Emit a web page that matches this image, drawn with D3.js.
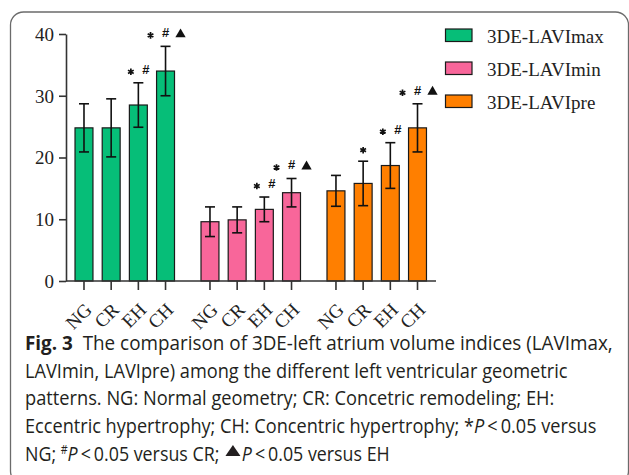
<!DOCTYPE html>
<html><head><meta charset="utf-8">
<script src="https://cdn.jsdelivr.net/npm/d3@7"></script>
<style>body{margin:0;background:#fff}svg{display:block}</style>
</head><body><svg id="c" width="629" height="475"></svg>
<script>
// ---- data ----
const categories = ["NG", "CR", "EH", "CH"];
const seriesNames = ["3DE-LAVImax", "3DE-LAVImin", "3DE-LAVIpre"];
const lavimaxMean = [24.8, 24.8, 28.5, 34.0];
const lavimaxSD   = [3.9, 4.7, 3.6, 4.0];
const laviminMean = [9.6, 9.9, 11.6, 14.3];
const laviminSD   = [2.4, 2.1, 2.0, 2.3];
const lavipreMean = [14.6, 15.8, 18.7, 24.8];
const lavipreSD   = [2.5, 3.6, 3.7, 3.9];
const lavimaxSig  = [[], [], ["*", "#"], ["*", "#", "▲"]];
const laviminSig  = [[], [], ["*", "#"], ["*", "#", "▲"]];
const lavipreSig  = [[], ["*"], ["*", "#"], ["*", "#", "▲"]];
const yTicks = [0, 10, 20, 30, 40];
const colors = ["#06BE78", "#F8669A", "#FF7F00"];

const captionLines = [
  [["Fig. 3", "b"], ["  The comparison of 3DE-left atrium volume indices (LAVImax,", ""]],
  [["LAVImin, LAVIpre) among the different left ventricular geometric", ""]],
  [["patterns. NG: Normal geometry; CR: Concetric remodeling; EH:", ""]],
  [["Eccentric hypertrophy; CH: Concentric hypertrophy; *", ""], ["P", "i"], ["\u2009<\u20090.05 versus", ""]],
  [["NG; ", ""], ["#", "sup"], ["P", "i"], ["\u2009<\u20090.05 versus CR; ", ""], ["▲", "tri"], ["P", "i"], ["\u2009<\u20090.05 versus EH", ""]]
];
const captionEnds = [613, 568, 555, 597, 390];

const series = [
  {name: seriesNames[0], mean: lavimaxMean, sd: lavimaxSD, sig: lavimaxSig},
  {name: seriesNames[1], mean: laviminMean, sd: laviminSD, sig: laviminSig},
  {name: seriesNames[2], mean: lavipreMean, sd: lavipreSD, sig: lavipreSig}
];

// ---- chart ----
const svg = d3.select("#c");
const serif = "'Liberation Serif','Times New Roman',serif";
const capFont = "'Open Sans','Noto Sans',sans-serif";
const triPath = "M-7.5,5.5L7.5,5.5L0,-5.5Z";

// frame
svg.append("rect").attr("x", 10.5).attr("y", 12).attr("width", 618).attr("height", 472)
  .attr("rx", 13).attr("fill", "none").attr("stroke", "#6b6b6b").attr("stroke-width", 1.3);

const y = d3.scaleLinear().domain([0, 40]).range([281, 34]);
const x0 = d3.scaleBand().domain(seriesNames).range([70.4, 431.1]).paddingInner(0.137).paddingOuter(0);
const x1 = d3.scaleBand().domain(categories).range([0, x0.bandwidth()]).paddingInner(0.34).paddingOuter(0.17);
const axisX = 66;

// y axis
const yAxis = svg.append("g").attr("transform", `translate(${axisX},0)`)
  .call(d3.axisLeft(y).tickValues(yTicks).tickSize(7).tickPadding(5).tickSizeOuter(0));
yAxis.select(".domain").attr("stroke", "#333").attr("stroke-width", 1.6);
yAxis.selectAll(".tick line").attr("stroke", "#333").attr("stroke-width", 1.6);
yAxis.selectAll(".tick text").attr("font-family", serif).attr("font-size", 19).attr("fill", "#222").attr("dy", "0.34em");

// bars
const groups = svg.append("g").selectAll("g").data(series).join("g")
  .attr("transform", d => `translate(${x0(d.name)},0)`);

groups.each(function(s, si) {
  const g = d3.select(this);
  const rows = categories.map((c, i) => ({c, m: s.mean[i], sd: s.sd[i], sig: s.sig[i]}));
  g.selectAll("rect.bar").data(rows).join("rect").attr("class", "bar")
    .attr("x", d => x1(d.c)).attr("width", x1.bandwidth())
    .attr("y", d => y(d.m)).attr("height", d => y(0) - y(d.m))
    .attr("fill", colors[si]).attr("stroke", "#1a1a1a").attr("stroke-width", 1.2);
  const cx = d => x1(d.c) + x1.bandwidth() / 2;
  const eb = g.selectAll("g.eb").data(rows).join("g").attr("class", "eb")
    .attr("stroke", "#111").attr("stroke-width", 1.6);
  eb.append("line").attr("x1", cx).attr("x2", cx).attr("y1", d => y(d.m - d.sd)).attr("y2", d => y(d.m + d.sd));
  eb.append("line").attr("x1", d => cx(d) - 5).attr("x2", d => cx(d) + 5).attr("y1", d => y(d.m + d.sd)).attr("y2", d => y(d.m + d.sd));
  eb.append("line").attr("x1", d => cx(d) - 5).attr("x2", d => cx(d) + 5).attr("y1", d => y(d.m - d.sd)).attr("y2", d => y(d.m - d.sd));
  // x ticks
  g.selectAll("line.xt").data(rows).join("line").attr("class", "xt")
    .attr("x1", cx).attr("x2", cx).attr("y1", y(0)).attr("y2", y(0) + 9)
    .attr("stroke", "#333").attr("stroke-width", 1.6);
  // x labels
  g.selectAll("text.xl").data(rows).join("text").attr("class", "xl")
    .attr("transform", d => `translate(${cx(d) + 9},${y(0) + 30}) rotate(-45)`)
    .attr("text-anchor", "end").attr("font-family", serif).attr("font-size", 19).attr("fill", "#222")
    .text(d => d.c);
  // significance marks
  rows.forEach(d => {
    const n = d.sig.length;
    const base = y(d.m + d.sd) - 9;
    d.sig.forEach((sym, k) => {
      const sx = cx(d) + (k - (n - 1) / 2) * 15;
      if (sym === "▲") {
        g.append("path").attr("d", d3.symbol(d3.symbolTriangle, 46)())
          .attr("transform", `translate(${sx},${base - 3})`).attr("fill", "#111");
      } else if (sym === "*") {
        g.append("path").attr("d", d3.symbol(d3.symbolAsterisk, 30)())
          .attr("transform", `translate(${sx},${base - 2})`).attr("fill", "none")
          .attr("stroke", "#111").attr("stroke-width", 1.7);
      } else {
        g.append("text").attr("x", sx).attr("y", base)
          .attr("text-anchor", "middle").attr("font-family", "'Liberation Sans',Arial,sans-serif")
          .attr("font-size", 13).attr("font-weight", "bold")
          .attr("fill", "#111").text(sym);
      }
    });
  });
});

// x axis line
svg.append("line").attr("x1", axisX).attr("x2", 436).attr("y1", y(0)).attr("y2", y(0))
  .attr("stroke", "#333").attr("stroke-width", 1.6);

// legend
const leg = svg.append("g").selectAll("g").data(seriesNames).join("g")
  .attr("transform", (d, i) => `translate(445.5,${29 + i * 33})`);
leg.append("rect").attr("width", 26.5).attr("height", 12.5)
  .attr("fill", (d, i) => colors[i]).attr("stroke", "#1a1a1a").attr("stroke-width", 1.2);
leg.append("text").attr("x", 41.5).attr("y", 14).attr("font-family", serif).attr("font-size", 19)
  .attr("fill", "#222").text(d => d);

// caption
const capBase = [350, 378, 405, 433, 461];
captionLines.forEach((segs, li) => {
  const t = svg.append("text").attr("x", 0).attr("y", 0)
    .attr("font-family", capFont).attr("font-size", 20)
    .attr("fill", "#231f20").style("white-space", "pre");
  let charCount = 0;
  const triIdx = [];
  segs.forEach(([txt, st], i) => {
    const prev = i > 0 ? segs[i - 1][1] : "";
    const shown = st === "tri" ? "\u2003" : txt;
    const ts = t.append("tspan").text(shown);
    if (st === "b") ts.attr("font-weight", "bold");
    if (st === "i") ts.attr("font-style", "italic");
    if (st === "sup") ts.attr("font-size", 12).attr("dy", -7);
    if (prev === "sup") ts.attr("dy", 7);
    if (st === "tri") triIdx.push(charCount);
    charCount += shown.length;
  });
  const node = t.node();
  const w = node.getBBox().width;
  const s = (captionEnds[li] - 25) / w;
  t.attr("transform", `translate(25,${capBase[li]}) scale(${s},1)`);
  triIdx.forEach(ci => {
    const p0 = node.getStartPositionOfChar(ci);
    const p1 = node.getEndPositionOfChar(ci);
    svg.append("path").attr("d", triPath)
      .attr("transform", `translate(${25 + s * (p0.x + p1.x) / 2},${capBase[li] - 10.5})`)
      .attr("fill", "#231f20");
  });
});
</script></body></html>
